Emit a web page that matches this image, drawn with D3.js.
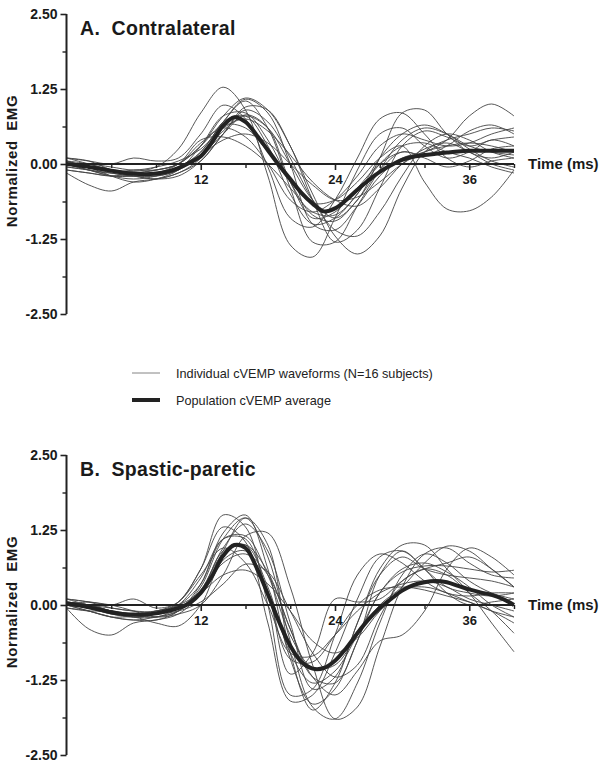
<!DOCTYPE html>
<html><head><meta charset="utf-8">
<script src="https://cdn.jsdelivr.net/npm/d3@7"></script>
<style>
html,body{margin:0;padding:0;background:#fff;}
svg{display:block;font-family:"Liberation Sans",Arial,sans-serif;}
</style></head>
<body>
<svg id="chart" width="606" height="767"></svg>
<script>
// ---------- data ----------
const timeIndiv = [0,2,4,6,8,10,12,14,16,18,20,22,24,26,28,30,32,34,36,38,40];
const timeAvg = [0,1,2,3,4,5,6,7,8,9,10,11,12,13,14,15,16,17,18,19,20,21,22,23,24,25,26,27,28,29,30,31,32,33,34,35,36,37,38,39,40];

const yTicksMajor = [2.5,1.25,0,-1.25,-2.5];
const yTickLabels = ["2.50","1.25","0.00","-1.25","-2.50"];
const yTicksMinor = [1.875,0.625,-0.625,-1.875];
const xTicksMajor = [12,24,36];
const xTicksMinor = [4,8,16,20,28,32,40];

const titles = ["A.  Contralateral","B.  Spastic-paretic"];
const legendLabels = ["Individual cVEMP waveforms (N=16 subjects)","Population cVEMP average"];

// Panel A individual waveforms
const contraIndiv = [
 [0.05,-0.05,-0.1,-0.12,-0.05,0.25,0.85,1.28,0.9,-0.2,-1.35,-1.55,-0.9,-0.1,0.5,0.6,0.3,0.1,0.2,0.4,0.3],
 [-0.1,-0.15,-0.2,-0.15,-0.1,0.0,0.3,0.8,1.1,0.9,0.3,-0.5,-1.2,-1.5,-1.2,-0.4,0.2,0.4,0.5,0.6,0.55],
 [0.0,-0.05,-0.15,-0.2,-0.2,-0.1,0.2,0.7,1.05,0.6,-0.4,-1.3,-1.3,-0.7,-0.1,0.4,0.6,0.5,0.3,0.2,0.15],
 [0.1,0.05,-0.1,-0.2,-0.25,-0.2,0.05,0.5,0.9,0.7,0.1,-0.6,-1.1,-1.2,-0.8,-0.2,0.3,0.5,0.4,0.2,0.1],
 [0.0,-0.1,-0.15,-0.1,-0.1,0.0,0.3,0.65,0.6,0.2,-0.3,-0.65,-0.6,-0.3,0.1,0.3,-0.3,-0.75,-0.78,-0.55,-0.1],
 [-0.05,-0.1,-0.2,-0.25,-0.2,-0.05,0.15,0.4,0.5,0.35,0.0,-0.35,-0.6,-0.55,-0.3,0.0,0.2,0.3,0.35,0.3,0.2],
 [-0.15,-0.35,-0.45,-0.3,-0.25,-0.15,0.1,0.7,0.8,0.3,-0.5,-1.0,-0.9,-0.5,0.0,0.3,0.35,0.2,0.1,-0.05,-0.15],
 [0.1,0.05,0.0,0.1,0.05,0.1,0.5,0.98,0.75,-0.05,-0.9,-1.05,-0.6,0.1,0.75,0.85,0.5,0.1,-0.05,0.05,0.1],
 [-0.05,-0.1,-0.15,-0.2,-0.15,-0.05,0.15,0.55,0.8,0.6,0.0,-0.6,-0.9,-0.6,0.1,0.85,0.9,0.5,0.2,0.1,0.2],
 [0.0,-0.05,-0.1,-0.15,-0.15,-0.05,0.2,0.7,1.08,0.85,0.0,-1.0,-1.1,-0.7,-0.2,0.1,0.2,0.4,0.8,1.0,0.8],
 [0.05,0.0,-0.1,-0.15,-0.1,0.0,0.35,0.6,0.45,0.0,-0.6,-0.8,-0.6,-0.2,0.3,0.5,0.4,0.3,0.35,0.5,0.6],
 [-0.1,-0.15,-0.2,-0.2,-0.25,-0.15,0.05,0.5,0.95,0.9,0.3,-0.6,-1.3,-1.1,-0.4,0.3,0.55,0.45,0.3,0.4,0.45],
 [0.0,0.0,-0.05,-0.1,-0.05,0.05,0.25,0.6,0.75,0.55,0.15,-0.3,-0.6,-0.7,-0.4,0.0,0.25,0.35,0.2,0.0,-0.1],
 [0.05,-0.05,-0.2,-0.3,-0.25,-0.1,0.3,0.8,0.85,0.4,-0.3,-0.85,-0.95,-0.6,-0.1,0.2,0.1,-0.05,0.05,0.25,0.3],
 [0.0,-0.1,-0.2,-0.2,-0.15,0.0,0.4,0.45,0.3,0.0,-0.4,-0.8,-0.85,-0.5,0.1,0.5,0.65,0.5,0.25,0.05,-0.05],
 [0.1,0.0,-0.1,-0.15,-0.2,-0.1,0.15,0.5,0.82,0.6,-0.3,-0.9,-0.8,-0.4,0.0,0.2,0.15,0.3,0.55,0.65,0.5]
];
const contraAvg = [0,-0.02,-0.05,-0.08,-0.11,-0.14,-0.16,-0.17,-0.16,-0.13,-0.07,0.02,0.13,0.36,0.64,0.78,0.7,0.48,0.23,-0.02,-0.25,-0.48,-0.66,-0.79,-0.74,-0.6,-0.43,-0.27,-0.13,-0.02,0.07,0.12,0.15,0.17,0.19,0.21,0.22,0.22,0.22,0.22,0.22];

// Panel B individual waveforms
const spasticIndiv = [
 [0.05,0.0,-0.1,-0.15,-0.15,0.05,0.6,1.5,1.3,0.0,-1.5,-1.4,-0.5,0.5,0.85,0.7,0.4,0.2,0.15,0.2,0.2],
 [0.0,-0.05,-0.1,-0.2,-0.2,-0.1,0.3,1.1,1.45,0.8,-0.6,-1.7,-1.9,-1.3,-0.3,0.5,0.85,0.7,0.4,0.2,0.1],
 [0.1,0.05,-0.05,-0.1,-0.15,-0.05,0.2,0.9,1.45,1.0,-0.8,-1.75,-1.3,-0.3,0.5,0.8,0.6,0.5,0.45,0.4,0.3],
 [-0.05,-0.4,-0.5,-0.3,-0.25,-0.15,0.2,0.9,1.0,0.3,-0.8,-1.3,-1.1,-0.5,0.2,0.6,0.7,0.55,0.3,0.0,-0.2],
 [0.05,0.0,-0.1,-0.15,-0.1,0.0,0.2,0.5,0.58,0.35,-0.1,-0.6,-0.8,-0.55,-0.1,0.25,0.3,0.2,0.05,-0.1,-0.2],
 [0.1,0.05,0.0,-0.1,-0.2,-0.15,0.0,0.5,1.15,1.2,0.3,-1.0,-1.9,-1.7,-0.7,0.3,0.85,0.95,0.7,0.5,0.45],
 [0.0,-0.1,-0.2,-0.2,-0.3,-0.35,0.0,0.75,0.9,0.2,-1.15,-0.8,0.1,0.05,0.1,0.4,0.6,0.5,0.2,-0.1,-0.47],
 [0.0,0.05,0.0,0.1,-0.05,0.05,0.6,1.3,1.05,-0.3,-1.6,-1.5,-0.8,0.1,0.8,0.9,0.6,0.2,0.0,0.05,0.1],
 [-0.05,-0.1,-0.2,-0.25,-0.2,-0.1,0.2,0.7,0.85,0.5,-0.4,-1.2,-1.5,-1.1,-0.6,-0.5,-0.1,0.6,0.95,0.8,0.5],
 [0.05,0.0,-0.1,-0.15,-0.1,0.0,0.35,1.1,1.15,0.5,-0.5,-1.05,-1.0,-0.5,0.0,0.3,0.7,0.98,0.9,0.6,0.3],
 [0.0,-0.05,-0.15,-0.15,-0.2,-0.05,0.25,0.95,1.35,0.9,-0.3,-1.4,-1.2,-0.3,0.6,1.0,1.0,0.6,0.2,-0.3,-0.78],
 [0.1,0.0,-0.05,-0.1,-0.1,0.05,0.5,0.95,0.7,0.0,-0.8,-0.85,-0.5,-0.1,0.2,0.35,0.4,0.3,0.1,0.0,-0.1],
 [0.0,-0.1,-0.2,-0.25,-0.25,-0.1,0.35,1.2,1.5,0.6,-0.9,-1.65,-1.4,-0.6,0.2,0.55,0.65,0.65,0.6,0.55,0.58],
 [-0.05,-0.1,-0.1,-0.15,-0.15,-0.1,0.05,0.35,0.68,0.55,-0.1,-0.8,-1.2,-1.0,-0.2,0.4,0.6,0.7,0.8,0.6,0.3],
 [0.05,0.0,-0.1,-0.2,-0.15,0.0,0.45,1.1,1.1,0.2,-0.9,-0.95,-0.5,0.0,0.25,0.3,0.25,0.15,0.05,-0.1,-0.3],
 [0.0,-0.05,-0.15,-0.2,-0.15,-0.05,0.25,0.85,1.0,0.55,-0.4,-1.2,-1.3,-0.6,0.5,0.9,0.6,0.3,0.2,0.15,0.2]
];
const spasticAvg = [0.02,0.0,-0.04,-0.08,-0.12,-0.15,-0.16,-0.16,-0.14,-0.1,-0.05,0.03,0.2,0.48,0.82,1.0,0.95,0.62,0.18,-0.28,-0.68,-0.95,-1.06,-1.05,-0.93,-0.72,-0.47,-0.24,-0.05,0.1,0.24,0.33,0.38,0.4,0.38,0.32,0.26,0.21,0.17,0.1,0.0];

// ---------- drawing ----------
const svg = d3.select("#chart");
const x = d3.scaleLinear().domain([0,40]).range([66.5,514]);

function drawPanel(top, title, indiv, avg) {
  const y = d3.scaleLinear().domain([2.5,-2.5]).range([top, top+300]);
  const g = svg.append("g");

  const lineI = d3.line().x((d,i)=>x(timeIndiv[i])).y(d=>y(d)).curve(d3.curveCatmullRom.alpha(0.5));
  const lineA = d3.line().x((d,i)=>x(timeAvg[i])).y(d=>y(d)).curve(d3.curveCatmullRom.alpha(0.5));

  g.selectAll("path.ind").data(indiv).enter().append("path")
    .attr("class","ind").attr("d", lineI)
    .attr("fill","none").attr("stroke","#444").attr("stroke-width",0.9);

  // y axis
  const yAxis = d3.axisLeft(y).tickValues(yTicksMajor).tickSize(6)
    .tickFormat((d,i)=>yTickLabels[i]).tickPadding(3);
  const ya = g.append("g").attr("transform",`translate(${x(0)},0)`).call(yAxis);
  ya.select(".domain").attr("stroke","#222").attr("stroke-width",2).attr("d",`M0,${y(2.5)}V${y(-2.5)}`);
  ya.selectAll(".tick line").attr("stroke","#222").attr("stroke-width",1.6);
  ya.selectAll(".tick text").attr("font-size","14px").attr("font-weight","bold").attr("fill","#1a1a1a")
    .attr("font-family","'Liberation Sans',Arial,sans-serif");
  const yMinor = d3.axisLeft(y).tickValues(yTicksMinor).tickSize(4).tickFormat("");
  const ym = g.append("g").attr("transform",`translate(${x(0)},0)`).call(yMinor);
  ym.select(".domain").remove();
  ym.selectAll(".tick line").attr("stroke","#222").attr("stroke-width",1.4);

  // x axis at zero
  const xAxis = d3.axisBottom(x).tickValues(xTicksMajor).tickSize(6).tickPadding(5);
  const xa = g.append("g").attr("transform",`translate(0,${y(0)})`).call(xAxis);
  xa.select(".domain").attr("stroke","#222").attr("stroke-width",2).attr("d",`M${x(0)},0H${x(40)}`);
  xa.selectAll(".tick line").attr("stroke","#222").attr("stroke-width",1.6);
  xa.selectAll(".tick text").attr("font-size","13px").attr("font-weight","bold").attr("fill","#1a1a1a")
    .attr("font-family","'Liberation Sans',Arial,sans-serif");
  const xMinor = d3.axisBottom(x).tickValues(xTicksMinor).tickSize(4).tickFormat("");
  const xm = g.append("g").attr("transform",`translate(0,${y(0)})`).call(xMinor);
  xm.select(".domain").remove();
  xm.selectAll(".tick line").attr("stroke","#222").attr("stroke-width",1.4);

  // average on top
  g.append("path").datum(avg).attr("d", lineA)
    .attr("fill","none").attr("stroke","#222").attr("stroke-width",4).attr("stroke-linejoin","round");

  // title
  g.append("text").attr("x",80).attr("y",top+21).text(title)
    .style("white-space","pre").attr("font-size","19.5px").attr("font-weight","bold").attr("fill","#1a1a1a")
    .attr("letter-spacing","0.3px");

  // x label
  g.append("text").attr("x",528).attr("y",y(0)+5).text("Time (ms)")
    .attr("font-size","15px").attr("font-weight","bold").attr("fill","#1a1a1a");

  // y label
  g.append("text").attr("transform",`translate(17,${y(0)-3}) rotate(-90)`)
    .attr("text-anchor","middle").text("Normalized  EMG").style("white-space","pre")
    .attr("font-size","15px").attr("font-weight","bold").attr("fill","#1a1a1a").attr("letter-spacing","0.6px");
}

drawPanel(14, titles[0], contraIndiv, contraAvg);
drawPanel(455, titles[1], spasticIndiv, spasticAvg);

// legend
const legendWidths = [0.9, 4];
const legendY = [373, 400];
const lg = svg.append("g");
legendLabels.forEach((lab,i)=>{
  lg.append("line").attr("x1",132).attr("x2",160).attr("y1",legendY[i]).attr("y2",legendY[i])
    .attr("stroke", i===0 ? "#777" : "#222").attr("stroke-width",legendWidths[i]);
  lg.append("text").attr("x",176).attr("y",legendY[i]+5).text(lab)
    .attr("font-size","12.7px").attr("fill","#222");
});
</script>
</body></html>
